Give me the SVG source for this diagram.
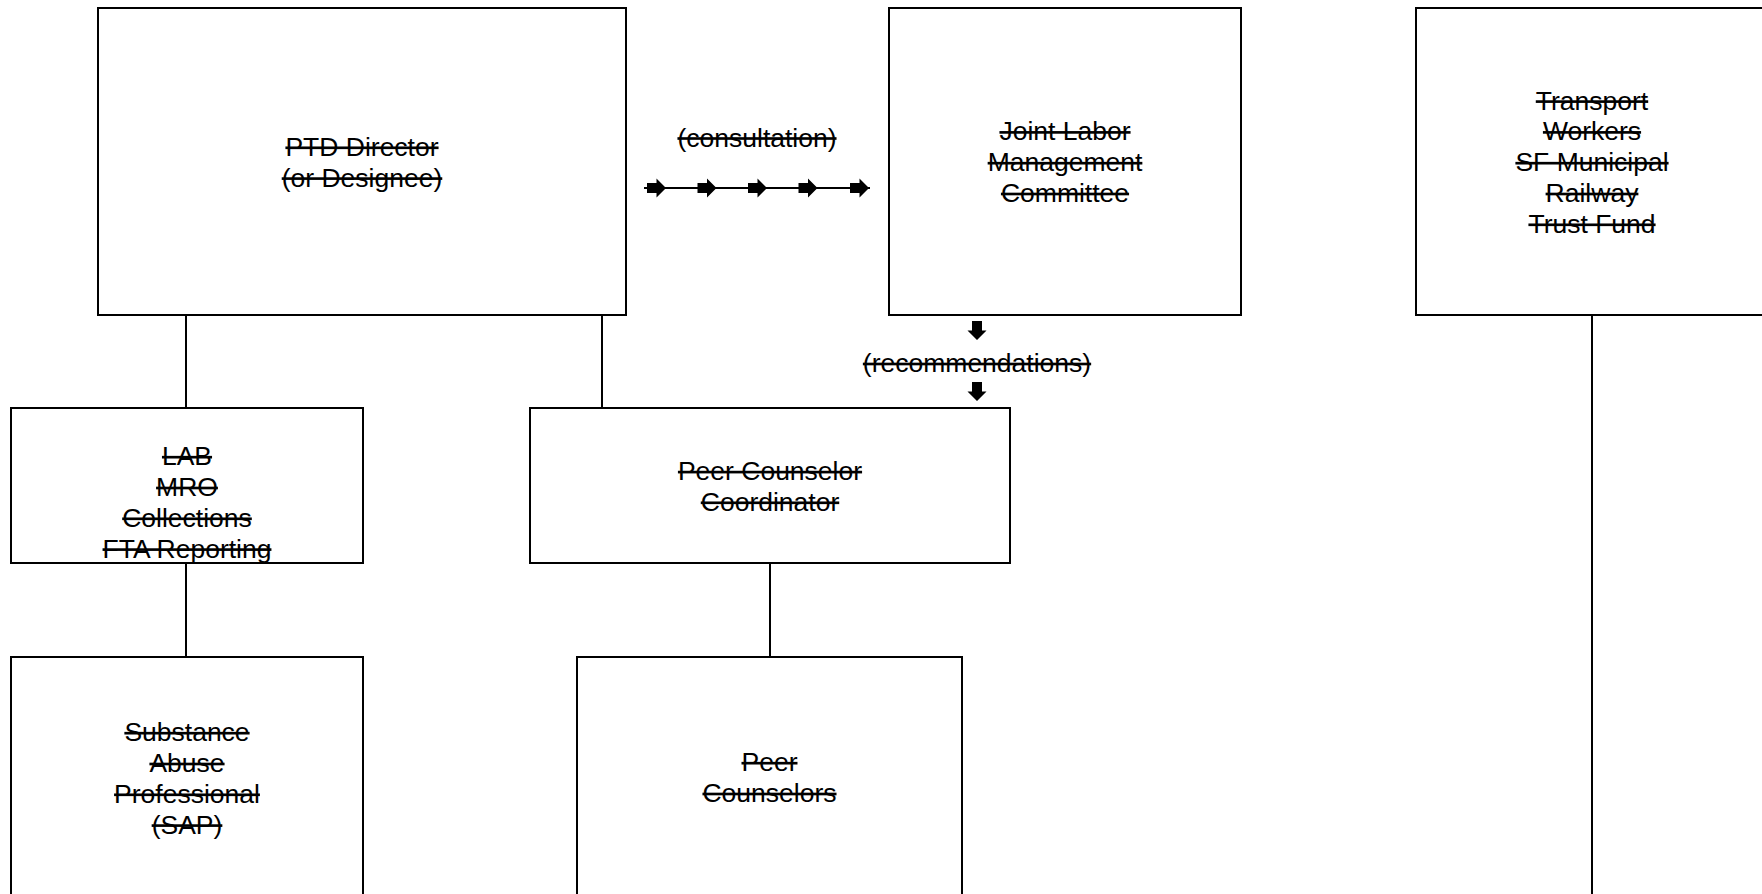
<svg xmlns="http://www.w3.org/2000/svg" xmlns:xlink="http://www.w3.org/1999/xlink" width="1762" height="894" viewBox="0 0 1762 894">
<style>
.box{fill:#fff;stroke:#000;stroke-width:2}
.ln{stroke:#000;stroke-width:2;fill:none}
text{font-family:"Liberation Sans",Arial,Helvetica,sans-serif;font-size:26.5px;fill:#000;text-anchor:middle;text-decoration:line-through}
</style>
<defs>
<path id="blk" d="M-19,-5 h9.5 v-4.5 l9.5,9.5 l-9.5,9.5 v-4.5 h-9.5 z" fill="#000"/>
</defs>
<rect width="1762" height="894" fill="#fff"/>
<g id="connectors">
<line class="ln" x1="186" y1="315" x2="186" y2="408"/>
<line class="ln" x1="602" y1="315" x2="602" y2="408"/>
<line class="ln" x1="186" y1="563" x2="186" y2="657"/>
<line class="ln" x1="770" y1="563" x2="770" y2="657"/>
<line class="ln" x1="1592" y1="315" x2="1592" y2="894"/>
<g id="consultation">
<line class="ln" x1="644" y1="188" x2="870" y2="188"/>
<use xlink:href="#blk" x="666" y="188"/>
<use xlink:href="#blk" x="716.5" y="188"/>
<use xlink:href="#blk" x="767" y="188"/>
<use xlink:href="#blk" x="817.5" y="188"/>
<use xlink:href="#blk" x="869" y="188"/>
<text x="757" y="146.5">(consultation)</text>
</g>
<g id="recommendations">
<use xlink:href="#blk" transform="translate(977,340) rotate(90)"/>
<use xlink:href="#blk" transform="translate(977,401) rotate(90)"/>
<text x="977" y="372">(recommendations)</text>
</g>
</g>
<g id="ptd">
<rect class="box" x="98" y="8" width="528" height="307"/>
<text><tspan x="362" y="155.8">PTD Director</tspan><tspan x="362" y="186.6">(or Designee)</tspan></text>
</g>
<g id="jlmc">
<rect class="box" x="889" y="8" width="352" height="307"/>
<text><tspan x="1065" y="140.4">Joint Labor</tspan><tspan x="1065" y="171.2">Management</tspan><tspan x="1065" y="202">Committee</tspan></text>
</g>
<g id="trust">
<rect class="box" x="1416" y="8" width="352" height="307"/>
<text><tspan x="1592" y="109.6">Transport</tspan><tspan x="1592" y="140.4">Workers</tspan><tspan x="1592" y="171.2">SF Municipal</tspan><tspan x="1592" y="202">Railway</tspan><tspan x="1592" y="232.8">Trust Fund</tspan></text>
</g>
<g id="lab">
<rect class="box" x="11" y="408" width="352" height="155"/>
<text><tspan x="187" y="465.2">LAB</tspan><tspan x="187" y="496">MRO</tspan><tspan x="187" y="526.8">Collections</tspan><tspan x="187" y="557.6">FTA Reporting</tspan></text>
</g>
<g id="coordinator">
<rect class="box" x="530" y="408" width="480" height="155"/>
<text><tspan x="770" y="480.1">Peer Counselor</tspan><tspan x="770" y="510.8">Coordinator</tspan></text>
</g>
<g id="sap">
<rect class="box" x="11" y="657" width="352" height="260"/>
<text><tspan x="187" y="741.2">Substance</tspan><tspan x="187" y="772">Abuse</tspan><tspan x="187" y="802.8">Professional</tspan><tspan x="187" y="833.6">(SAP)</tspan></text>
</g>
<g id="peers">
<rect class="box" x="577" y="657" width="385" height="260"/>
<text><tspan x="769.5" y="771.2">Peer</tspan><tspan x="769.5" y="802">Counselors</tspan></text>
</g>
</svg>
